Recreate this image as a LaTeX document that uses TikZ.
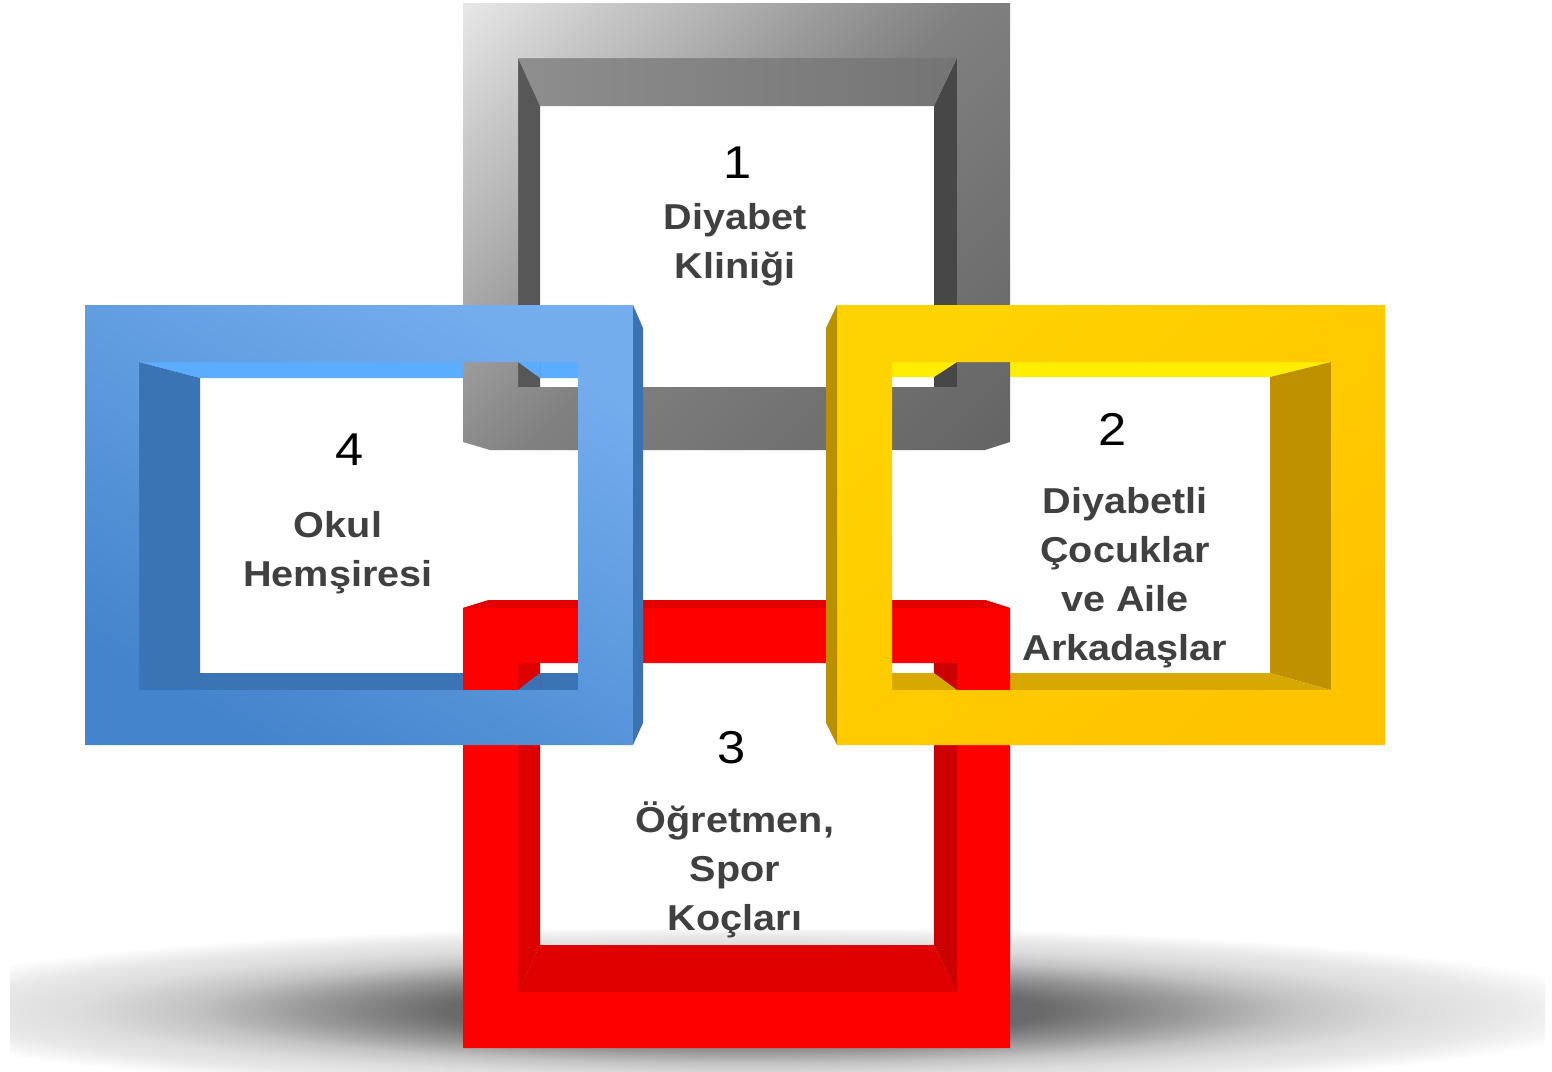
\documentclass[tikz,border=0pt]{standalone}
\usepackage{fontspec}
\newfontfamily\lblfont[FakeStretch=1.1]{Liberation Sans}
\definecolor{txt}{HTML}{404040}
\definecolor{blueL}{HTML}{74ADEE}
\definecolor{blueD}{HTML}{4484CC}
\definecolor{bluetop}{HTML}{5AADFF}
\definecolor{bluedark}{HTML}{3B74B4}
\definecolor{blueside}{HTML}{3A72B2}
\definecolor{yelL}{HTML}{FFD300}
\definecolor{yelD}{HTML}{FFC300}
\definecolor{yeltop}{HTML}{FFEE00}
\definecolor{yelright}{HTML}{BF9000}
\definecolor{yelbot}{HTML}{D6A800}
\definecolor{yelside}{HTML}{B89000}
\definecolor{redfront}{HTML}{FF0000}
\definecolor{redtopface}{HTML}{E40000}
\definecolor{redleft}{HTML}{DD0000}
\definecolor{redright}{HTML}{CC0000}
\definecolor{redbot}{HTML}{E00000}
\definecolor{graybevL}{HTML}{8E8E8E}
\definecolor{graybevR}{HTML}{747474}
\definecolor{grayleft}{HTML}{575757}
\definecolor{grayright}{HTML}{474747}
\definecolor{g1}{HTML}{646464}
\definecolor{g2}{HTML}{767676}
\definecolor{g3}{HTML}{808080}
\definecolor{g4}{HTML}{8A8A8A}
\definecolor{g5}{HTML}{929292}
\definecolor{g6}{HTML}{A0A0A0}
\definecolor{g7}{HTML}{B2B2B2}
\definecolor{g8}{HTML}{C8C8C8}
\definecolor{g9}{HTML}{E6E6E6}
\definecolor{s0}{HTML}{5C5C5C}
\definecolor{s1}{HTML}{6A6A6A}
\definecolor{s2}{HTML}{9A9A9A}
\definecolor{s3}{HTML}{C4C4C4}
\definecolor{s4}{HTML}{DDDDDD}
\definecolor{s5}{HTML}{E8E8E8}
\pgfdeclareverticalshading{grayfront}{100bp}{color(0bp)=(g1); color(15bp)=(g1); color(37bp)=(g2); color(49bp)=(g3); color(53bp)=(g4); color(56bp)=(g5); color(61bp)=(g6); color(67bp)=(g7); color(75bp)=(g8); color(85bp)=(g9); color(100bp)=(g9)}
\pgfdeclareradialshading{floorshadow}{\pgfpoint{0bp}{0bp}}{color(0bp)=(s0); color(8.5bp)=(s1); color(12.5bp)=(s2); color(15.75bp)=(s3); color(19bp)=(s4); color(21.75bp)=(s5); color(25bp)=(white); color(50bp)=(white)}
\tikzset{
  lbl/.style={font=\lblfont\bfseries\fontsize{36}{49}\selectfont, text=txt, align=center, inner sep=0pt, anchor=north},
  num/.style={font=\lblfont\fontsize{46}{46}\selectfont, text=black, inner sep=0pt, anchor=base},
}
\begin{document}
\begin{tikzpicture}[x=1pt,y=-1pt]
\fill[white] (0,0) rectangle (1552,1071);
\useasboundingbox (0,0) rectangle (1552,1071);
% floor shadow
\begin{scope}
\clip (10,930) rectangle (1545,1071);
\shade[shading=floorshadow] (745,1010) ellipse [x radius=880, y radius=85];
\end{scope}
% blue bevel (back faces)
\fill[bluetop] (139,362) -- (578,362) -- (578,378) -- (200,378) -- cycle;
\fill[bluedark] (139,362) -- (200,378) -- (200,673) -- (578,673) -- (578,690) -- (139,690) -- cycle;
% yellow bevel (back faces)
\fill[yeltop] (892,362) -- (1331,362) -- (1270,377) -- (892,377) -- cycle;
\fill[yelright] (1331,362) -- (1331,690) -- (1270,673) -- (1270,377) -- cycle;
\fill[yelbot] (892,673) -- (1270,673) -- (1331,690) -- (892,690) -- cycle;
% gray bevel
\shade[left color=graybevL, right color=graybevR] (518,58) -- (957,58) -- (934,106) -- (540,106) -- cycle;
\fill[grayleft] (518,58) -- (540,106) -- (540,387) -- (518,387) -- cycle;
\fill[grayright] (957,58) -- (934,106) -- (934,387) -- (957,387) -- cycle;
% gray front
\shade[even odd rule, shading=grayfront, shading angle=45] (463,3) -- (1010,3) -- (1010,442) -- (985,450) -- (490,450) -- (463,442) -- cycle (518,58) rectangle (957,387);
% red bevel
\fill[redleft] (518,663) -- (540,663) -- (540,945) -- (518,992) -- cycle;
\fill[redright] (957,663) -- (934,663) -- (934,945) -- (957,992) -- cycle;
\fill[redbot] (518,992) -- (540,945) -- (934,945) -- (957,992) -- cycle;
% red front
\fill[even odd rule, redfront] (463,608) -- (489,600) -- (985,600) -- (1010,608) -- (1010,1048) -- (463,1048) -- cycle (518,663) rectangle (957,992);
\fill[redtopface] (463,608) -- (489,600) -- (985,600) -- (1010,608) -- cycle;
% mitres where the links cross
\fill[bluetop] (518,362) -- (540,362) -- (540,378) -- cycle;
\fill[yeltop] (934,362) -- (957,362) -- (934,377) -- cycle;
\fill[bluedark] (518,690) -- (540,673) -- (540,690) -- cycle;
\fill[yelbot] (934,673) -- (957,690) -- (934,690) -- cycle;
% blue front
\shade[even odd rule, top color=blueL, bottom color=blueD, shading angle=-30] (85,305) rectangle (633,745) (139,362) rectangle (578,690);
\fill[blueside] (633,305) -- (643,328) -- (643,723) -- (633,745) -- cycle;
% yellow front
\shade[even odd rule, top color=yelL, bottom color=yelD, shading angle=40] (837,305) rectangle (1385,745) (892,362) rectangle (1331,690);
\fill[yelside] (837,305) -- (826,328) -- (826,723) -- (837,745) -- cycle;
% texts
\node[num] (n1) at (738,178) {1};
\node[lbl] (t1) at (735,195) {\strut Diyabet\\Kliniği};
\node[num] (n2) at (1113,445) {2};
\node[lbl] (t2) at (1125,479) {\strut Diyabetli\\Çocuklar\\ve Aile\\Arkadaşlar};
\node[num] (n3) at (732,763) {3};
\node[lbl] (t3) at (735,798) {\strut Öğretmen,\\Spor\\Koçları};
\node[num] (n4) at (350,465) {4};
\node[lbl] (t4) at (338,503) {\strut Okul\\Hemşiresi};
\end{tikzpicture}
\end{document}
